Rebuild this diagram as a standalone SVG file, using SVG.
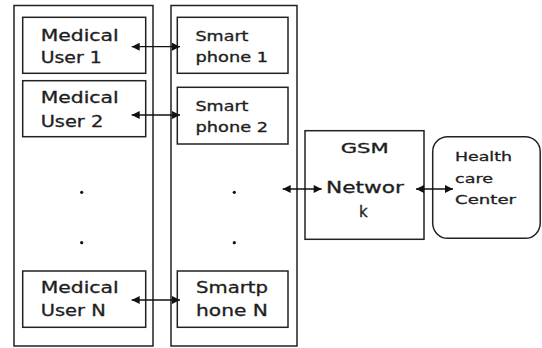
<svg xmlns="http://www.w3.org/2000/svg" width="542" height="348" viewBox="0 0 542 348">
<style>
.box{fill:#fff;stroke:#222;stroke-width:1.5}
.t{font-family:"DejaVu Sans","Liberation Sans",sans-serif;fill:#1e1e1e;stroke:#1e1e1e;stroke-width:0.3}
.m{font-size:15px}
.s{font-size:13.5px}
.h{font-size:12.5px}
.dot{fill:#111}
.c{stroke:#111;stroke-width:1.3;fill:none;marker-start:url(#ah);marker-end:url(#ah)}
</style>
<defs>
<marker id="ah" viewBox="0 0 10 10" refX="10" refY="5" markerWidth="9" markerHeight="8" markerUnits="userSpaceOnUse" orient="auto-start-reverse">
<path d="M0,0 L10,5 L0,10 z" fill="#111"/>
</marker>
</defs>
<g id="users-column"><rect class="box" x="14" y="5.5" width="139" height="340.5"/></g>
<g id="phones-column"><rect class="box" x="171" y="5.5" width="126" height="340.5"/></g>
<g id="user1"><rect class="box" x="22.7" y="17.3" width="123" height="56"/>
<text class="t m" x="40.7" y="40.7" textLength="78" lengthAdjust="spacingAndGlyphs">Medical</text>
<text class="t m" x="40.7" y="63.3" textLength="61" lengthAdjust="spacingAndGlyphs">User 1</text></g>
<g id="user2"><rect class="box" x="22.7" y="80.7" width="123" height="56"/>
<text class="t m" x="40.7" y="103.3" textLength="78" lengthAdjust="spacingAndGlyphs">Medical</text>
<text class="t m" x="40.7" y="126.7" textLength="62.6" lengthAdjust="spacingAndGlyphs">User 2</text></g>
<g id="userN"><rect class="box" x="22.7" y="271" width="123" height="56.3"/>
<text class="t m" x="40.7" y="293.3" textLength="78" lengthAdjust="spacingAndGlyphs">Medical</text>
<text class="t m" x="40.7" y="315.7" textLength="65" lengthAdjust="spacingAndGlyphs">User N</text></g>
<g id="phone1"><rect class="box" x="177.3" y="17.3" width="110.7" height="56"/>
<text class="t s" x="195.5" y="40.7" textLength="53" lengthAdjust="spacingAndGlyphs">Smart</text>
<text class="t s" x="195.5" y="62.3" textLength="72.5" lengthAdjust="spacingAndGlyphs">phone 1</text></g>
<g id="phone2"><rect class="box" x="177.3" y="87.3" width="110.7" height="56.7"/>
<text class="t s" x="195.5" y="110.7" textLength="53" lengthAdjust="spacingAndGlyphs">Smart</text>
<text class="t s" x="195.5" y="132.3" textLength="72.5" lengthAdjust="spacingAndGlyphs">phone 2</text></g>
<g id="phoneN"><rect class="box" x="177.3" y="271" width="110.7" height="56.3"/>
<text class="t m" x="196" y="293.3" textLength="72" lengthAdjust="spacingAndGlyphs">Smartp</text>
<text class="t m" x="196" y="315.7" textLength="72" lengthAdjust="spacingAndGlyphs">hone N</text></g>
<g id="dots-users"><circle class="dot" cx="81.7" cy="192.3" r="1.6"/><circle class="dot" cx="81.7" cy="242.7" r="1.6"/></g>
<g id="dots-phones"><circle class="dot" cx="234.3" cy="192.3" r="1.6"/><circle class="dot" cx="234.3" cy="242.7" r="1.6"/></g>
<g id="gsm"><rect class="box" x="305" y="130.7" width="119" height="108.6"/>
<text class="t s" x="340.7" y="153.3" textLength="48" lengthAdjust="spacingAndGlyphs">GSM</text>
<text class="t m" x="326" y="193.3" textLength="78" lengthAdjust="spacingAndGlyphs">Networ</text>
<text class="t m" x="359" y="216.7">k</text></g>
<g id="healthcare"><rect class="box" x="432.7" y="136.7" width="107.5" height="101.6" rx="15" ry="15"/>
<text class="t h" x="455" y="160.7" textLength="57" lengthAdjust="spacingAndGlyphs">Health</text>
<text class="t h" x="455" y="183" textLength="38" lengthAdjust="spacingAndGlyphs">care</text>
<text class="t h" x="455" y="204" textLength="61" lengthAdjust="spacingAndGlyphs">Center</text></g>
<g id="connectors">
<line class="c" x1="131.7" y1="46.7" x2="180" y2="46.7"/>
<line class="c" x1="131.7" y1="115" x2="180" y2="115"/>
<line class="c" x1="131.7" y1="300" x2="180" y2="300"/>
<line class="c" x1="282.7" y1="189" x2="321.7" y2="189"/>
<line class="c" x1="416" y1="189" x2="453" y2="189"/>
</g>
</svg>
